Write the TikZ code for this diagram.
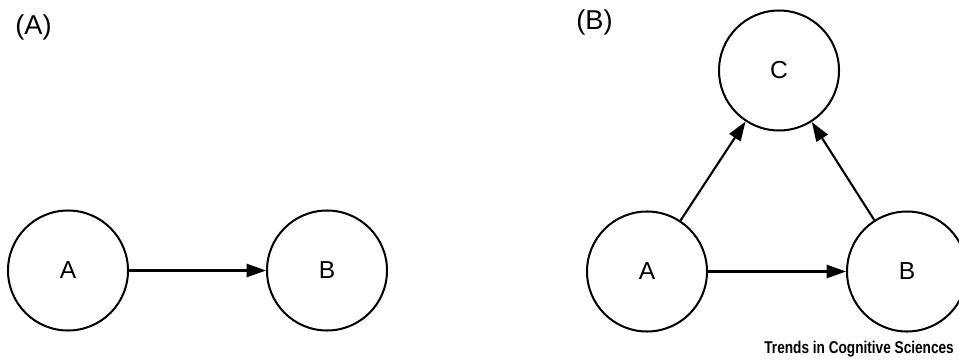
\documentclass[tikz,border=0pt]{standalone}
\usepackage{fontspec}
\setmainfont{Liberation Sans}
\usetikzlibrary{arrows.meta}
\tikzset{
	var/.style={draw, circle, line width=1.15pt, minimum size=2.4cm, inner sep=0pt, font=\fontsize{14}{16}\selectfont},
	link/.style={line width=1.2pt, -{Triangle[length=11pt, width=7.5pt]}},
	panel/.style={font=\fontsize{15.5}{18}\selectfont}
}
\begin{document}
\begin{tikzpicture}
							\useasboundingbox (0,0) rectangle (19.18,7.24);
							\node[panel] (labA) at (0.67,6.70) {(A)};
							\node[panel] (labB) at (11.89,6.79) {(B)};
							
							\node[var] (a1) at (1.36,1.83) {A};
							\node[var] (b1) at (6.54,1.83) {B};
							\draw[link] (a1) -- (b1);
							
							\node[var] (a2) at (12.94,1.81) {A};
							\node[var] (b2) at (18.14,1.81) {B};
							\node[var] (c2) at (15.58,5.83) {C};
							\draw[link] (a2) -- (b2);
							\draw[link] (a2) -- (c2);
							\draw[link] (b2) -- (c2);
							
							\node[anchor=base west, inner sep=0pt, font=\bfseries\fontsize{9.7}{12}\selectfont] (src) at (15.28,0.18) {\scalebox{0.8}[1]{Trends in Cognitive Sciences}};
						\end{tikzpicture}
\end{document}
